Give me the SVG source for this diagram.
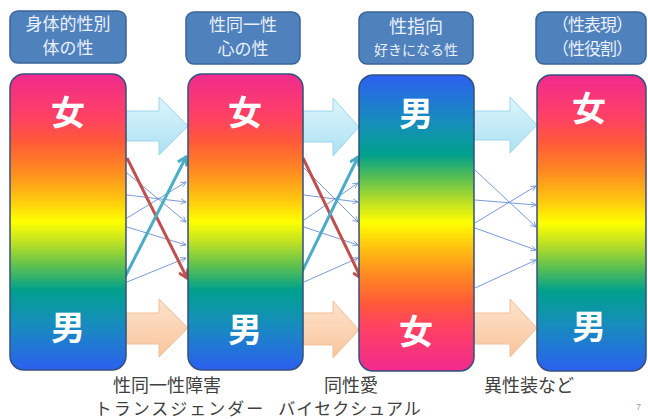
<svg xmlns="http://www.w3.org/2000/svg" width="648" height="419" viewBox="0 0 648 419">
<style>
.hdr{fill:#4f81bd;stroke:#3c6496;stroke-width:1.5}
.ht{font-family:"Noto Sans CJK JP","Noto Sans",sans-serif;fill:#eaf0f9;text-anchor:middle;font-size:17px}
.bar{stroke:#35507e;stroke-width:1.5}
.bt{font-family:"Noto Sans CJK JP","Noto Sans",sans-serif;fill:#ffffff;text-anchor:middle;font-size:34px;font-weight:bold}
.cap{font-family:"Noto Sans CJK JP","Noto Sans",sans-serif;fill:#404040;text-anchor:middle;font-size:17px}
.ab{fill:url(#gBlue);stroke:#9fd6ea;stroke-width:1}
.ap{fill:url(#gPeach);stroke:#f0c09a;stroke-width:1}
.thin{stroke:#6a8fd0;stroke-width:0.9;fill:none;marker-end:url(#mThin)}
.red{stroke:#c0504d;stroke-width:3;fill:none;marker-end:url(#mRed)}
.teal{stroke:#4bacc6;stroke-width:3;fill:none;marker-end:url(#mTeal)}
</style>
<defs>
<linearGradient id="rb" x1="0" y1="0" x2="0" y2="1">
<stop offset="0" stop-color="#f02a8e"/>
<stop offset="0.15" stop-color="#ff4262"/>
<stop offset="0.23" stop-color="#ff5a38"/>
<stop offset="0.33" stop-color="#ff8c20"/>
<stop offset="0.42" stop-color="#ffc410"/>
<stop offset="0.5" stop-color="#ffff00"/>
<stop offset="0.57" stop-color="#bde024"/>
<stop offset="0.65" stop-color="#5cc050"/>
<stop offset="0.73" stop-color="#00a08c"/>
<stop offset="0.84" stop-color="#168ebb"/>
<stop offset="1" stop-color="#2c60f0"/>
</linearGradient>
<linearGradient id="rbR" x1="0" y1="1" x2="0" y2="0">
<stop offset="0" stop-color="#f02a8e"/>
<stop offset="0.15" stop-color="#ff4262"/>
<stop offset="0.23" stop-color="#ff5a38"/>
<stop offset="0.33" stop-color="#ff8c20"/>
<stop offset="0.42" stop-color="#ffc410"/>
<stop offset="0.5" stop-color="#ffff00"/>
<stop offset="0.57" stop-color="#bde024"/>
<stop offset="0.65" stop-color="#5cc050"/>
<stop offset="0.73" stop-color="#00a08c"/>
<stop offset="0.84" stop-color="#168ebb"/>
<stop offset="1" stop-color="#2c60f0"/>
</linearGradient>
<linearGradient id="gBlue" x1="0" y1="0" x2="0" y2="1">
<stop offset="0" stop-color="#dcf5fc"/>
<stop offset="1" stop-color="#ade1f3"/>
</linearGradient>
<linearGradient id="gPeach" x1="0" y1="0" x2="0" y2="1">
<stop offset="0" stop-color="#fde3cc"/>
<stop offset="1" stop-color="#f9c59c"/>
</linearGradient>
<marker id="mThin" viewBox="0 0 8 8" refX="7" refY="4" markerWidth="7" markerHeight="7" orient="auto" markerUnits="userSpaceOnUse">
<path d="M1,1 L7,4 L1,7" fill="none" stroke="#6a8fd0" stroke-width="0.9"/>
</marker>
<marker id="mRed" viewBox="0 0 12 12" refX="10" refY="6" markerWidth="12" markerHeight="12" orient="auto" markerUnits="userSpaceOnUse">
<path d="M2,1 L10,6 L2,11" fill="none" stroke="#c0504d" stroke-width="3"/>
</marker>
<marker id="mTeal" viewBox="0 0 12 12" refX="10" refY="6" markerWidth="12" markerHeight="12" orient="auto" markerUnits="userSpaceOnUse">
<path d="M2,1 L10,6 L2,11" fill="none" stroke="#4bacc6" stroke-width="3"/>
</marker>
</defs>
<rect width="648" height="419" fill="#ffffff"/>

<g id="connectors">
<path class="ab" d="M126,111 H159 V97 L188,126 L159,155 V141 H126 Z"/>
<path class="ap" d="M126,313 H159 V299 L188,328 L159,357 V344 H126 Z"/>
<path class="ab" d="M303,111 H333 V98 L359,127 L333,156 V142 H303 Z"/>
<path class="ap" d="M303,313 H333 V301 L359,330 L333,358 V345 H303 Z"/>
<path class="ab" d="M474,111 H510 V97 L537,125 L510,153 V140 H474 Z"/>
<path class="ap" d="M474,313 H510 V299 L537,328 L510,357 V344 H474 Z"/>

<path class="thin" d="M127,173 L186,222"/>
<path class="thin" d="M127,195 L186,202"/>
<path class="thin" d="M127,218 L186,182"/>
<path class="thin" d="M127,227 L186,245"/>
<path class="thin" d="M127,282 L186,258"/>
<path class="red" d="M127,158 L187,278"/>
<path class="teal" d="M124,279 L186,157"/>

<path class="thin" d="M304,168 L358,222"/>
<path class="thin" d="M304,195 L358,202"/>
<path class="thin" d="M304,220 L358,183"/>
<path class="thin" d="M304,227 L358,245"/>
<path class="thin" d="M304,282 L358,258"/>
<path class="red" d="M303,158 L361,278"/>
<path class="teal" d="M298,280 L358,157"/>

<path class="thin" d="M475,170 L536,227"/>
<path class="thin" d="M475,200 L536,205"/>
<path class="thin" d="M475,223 L536,186"/>
<path class="thin" d="M475,228 L536,250"/>
<path class="thin" d="M475,288 L536,260"/>
</g>

<g id="hdr1"><rect class="hdr" x="10" y="11" width="116" height="52" rx="8"/>
<text class="ht" x="68" y="30">身体的性別</text><text class="ht" x="68" y="54">体の性</text></g>
<g id="hdr2"><rect class="hdr" x="186" y="12" width="114" height="52" rx="8"/>
<text class="ht" x="243" y="31">性同一性</text><text class="ht" x="243" y="55">心の性</text></g>
<g id="hdr3"><rect class="hdr" x="359" y="12" width="114" height="52" rx="8"/>
<text class="ht" x="416" y="33" style="font-size:18px">性指向</text><text class="ht" x="416" y="55" style="font-size:14px">好きになる性</text></g>
<g id="hdr4"><rect class="hdr" x="536" y="12" width="110" height="52" rx="8"/>
<text class="ht" x="592" y="31" letter-spacing="-1">（性表現）</text><text class="ht" x="592" y="55" letter-spacing="-1">（性役割）</text></g>

<g id="bar1"><rect class="bar" x="10" y="74" width="116" height="296" rx="14" fill="url(#rb)"/>
<text class="bt" x="68" y="125">女</text><text class="bt" x="68" y="340">男</text></g>
<g id="bar2"><rect class="bar" x="188" y="74" width="115" height="296" rx="14" fill="url(#rb)"/>
<text class="bt" x="245" y="125">女</text><text class="bt" x="245" y="342">男</text></g>
<g id="bar3"><rect class="bar" x="359" y="75" width="115" height="296" rx="14" fill="url(#rbR)"/>
<text class="bt" x="416" y="126">男</text><text class="bt" x="416" y="344">女</text></g>
<g id="bar4"><rect class="bar" x="537" y="75" width="109" height="296" rx="14" fill="url(#rb)"/>
<text class="bt" x="589" y="121">女</text><text class="bt" x="589" y="339">男</text></g>

<g id="cap1"><text class="cap" x="167" y="392" style="font-size:18px">性同一性障害</text><text class="cap" x="180" y="415" letter-spacing="2">トランスジェンダー</text></g>
<g id="cap2"><text class="cap" x="351" y="392" style="font-size:18px">同性愛</text><text class="cap" x="350" y="415" letter-spacing="1">バイセクシュアル</text></g>
<g id="cap3"><text class="cap" x="529" y="392" style="font-size:18px">異性装など</text></g>
<g id="page"><text x="636" y="410" style="font-family:'Liberation Sans',sans-serif;font-size:9px;fill:#999999">7</text></g>
</svg>
